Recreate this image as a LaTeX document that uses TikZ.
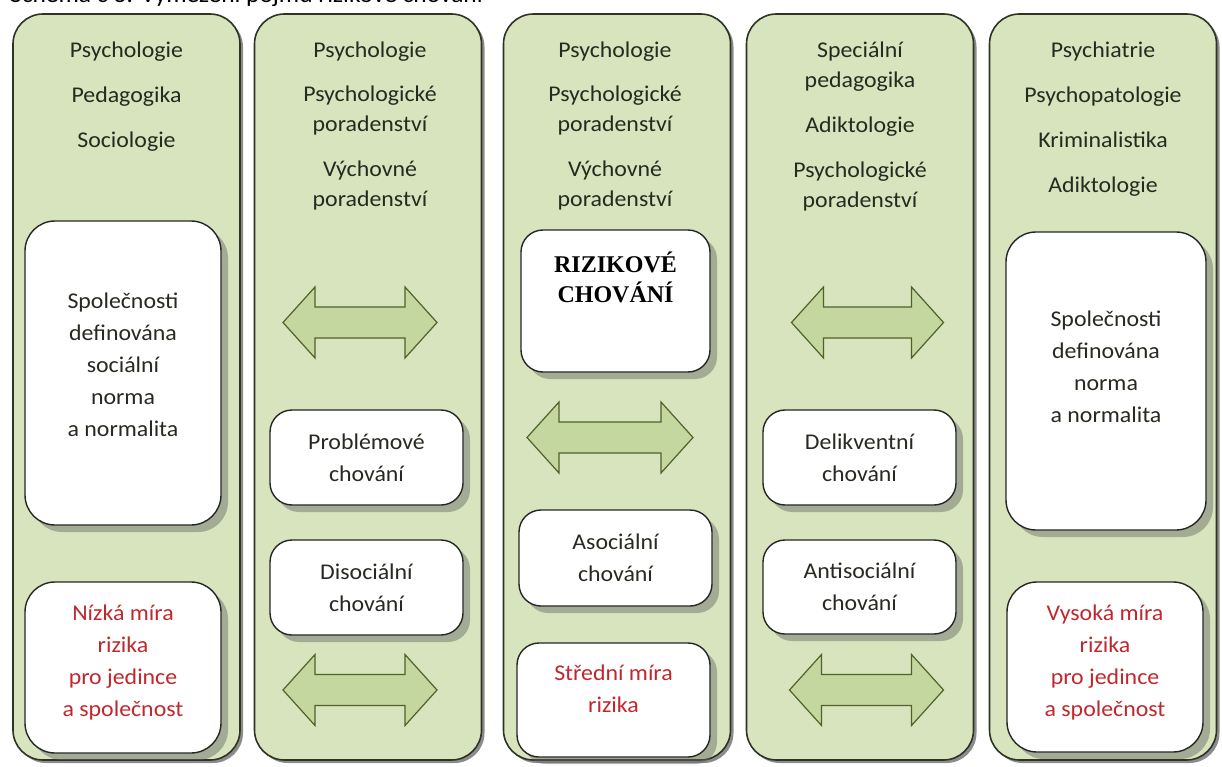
\documentclass[tikz,border=0pt]{standalone}
\usepackage{fontspec}
\setmainfont{Carlito}[FakeStretch=1.06]
\newfontfamily\timesfont{Liberation Serif}
\usetikzlibrary{shadows}
\definecolor{colfill}{HTML}{D7E4BD}
\definecolor{colborder}{HTML}{2E3326}
\definecolor{textdark}{HTML}{262A20}
\definecolor{riskred}{HTML}{C0282D}
\definecolor{arrowfill}{HTML}{C4D79F}
\definecolor{arrowdraw}{HTML}{4F6228}
\tikzset{
  column/.style={draw=colborder, line width=1.6pt, fill=colfill, rounded corners=30pt,
    inner sep=0pt, minimum width=227pt, minimum height=746pt,
    drop shadow={shadow xshift=3pt, shadow yshift=-3pt, fill=black, opacity=0.45}},
  wbox/.style={draw=black!85, line width=1.4pt, fill=white, rounded corners=#1,
    inner sep=0pt, align=center, text=textdark,
    font=\fontsize{22.5}{32}\selectfont,
    drop shadow={shadow xshift=7pt, shadow yshift=-7pt, fill=black!60, opacity=0.45}},
  wbox/.default=22pt,
  hdr/.style={font=\fontsize{22.5}{30}\selectfont, text=textdark, align=center, inner sep=0pt},
  boxtxt/.style={font=\fontsize{22.5}{32}\selectfont, text=textdark, align=center, inner sep=0pt},
  redtxt/.style={font=\fontsize{22.5}{32}\selectfont, text=riskred, align=center, inner sep=0pt},
  dblarrow/.pic={
    \path[draw=arrowdraw, line width=1.2pt, fill=arrowfill, line join=miter]
      (-#1,0) -- (-#1+32,-35.5) -- (-#1+32,-15.5) -- (#1-32,-15.5) -- (#1-32,-35.5)
      -- (#1,0) -- (#1-32,35.5) -- (#1-32,15.5) -- (-#1+32,15.5) -- (-#1+32,35.5) -- cycle;
  }
}
\begin{document}
\begin{tikzpicture}[x=1pt,y=-1pt]
\useasboundingbox (0,0) rectangle (1222,767);
\fill[white] (0,0) rectangle (1222,767);
% title (cut off at the top)
\node[anchor=base west, inner sep=0pt, font=\fontsize{24}{28}\selectfont] (title) at (10,3)
  {Schéma č 3: Vymezení pojmu rizikové chování};
% columns
\node[column] (c1) at (126.5,387) {};
\node[column] (c2) at (368,387) {};
\node[column] (c3) at (617,387) {};
\node[column] (c4) at (860,387) {};
\node[column] (c5) at (1103,387) {};
% headers (anchor base = baseline of last line)
\node[hdr, anchor=base] (h1) at (126.5,148) {Psychologie\\[15pt]Pedagogika\\[15pt]Sociologie};
\node[hdr, anchor=base] (h2) at (370,207) {Psychologie\\[14pt]Psychologické\\poradenství\\[15pt]Výchovné\\poradenství};
\node[hdr, anchor=base] (h3) at (615,207) {Psychologie\\[14pt]Psychologické\\poradenství\\[15pt]Výchovné\\poradenství};
\node[hdr, anchor=base] (h4) at (860,208) {Speciální\\pedagogika\\[15pt]Adiktologie\\[15pt]Psychologické\\poradenství};
\node[hdr, anchor=base] (h5) at (1103,193) {Psychiatrie\\[15pt]Psychopatologie\\[15pt]Kriminalistika\\[15pt]Adiktologie};
% column 1
\node[wbox=30pt, minimum width=196pt, minimum height=304pt] (b1a) at (123,373) {};
\node[boxtxt] (t1a) at (123,365) {Společnosti\\definována\\sociální\\norma\\a normalita};
\node[wbox=30pt, minimum width=196pt, minimum height=171pt] (b1b) at (123,667.5) {};
\node[redtxt] (t1b) at (123,662) {Nízká míra\\rizika\\pro jedince\\a společnost};
% column 2
\pic (a2t) at (360,322.5) {dblarrow=77};
\node[wbox, minimum width=193pt, minimum height=95pt] (b2a) at (366.5,457.5) {Problémové\\chování};
\node[wbox, minimum width=193pt, minimum height=95pt] (b2b) at (366.5,587.5) {Disociální\\chování};
\pic (a2b) at (360,690) {dblarrow=77};
% column 3
\node[wbox, minimum width=189pt, minimum height=142pt] (b3a) at (615.5,301) {};
\node[anchor=base, inner sep=0pt, align=center, font=\timesfont\bfseries\fontsize{24}{30}\selectfont] (t3a) at (615.5,302) {RIZIKOVÉ\\CHOVÁNÍ};
\pic (a3) at (610,437.5) {dblarrow=83};
\node[wbox, minimum width=193pt, minimum height=96pt] (b3b) at (615.5,558) {Asociální\\chování};
\node[wbox, minimum width=193pt, minimum height=114pt] (b3c) at (613.5,700) {};
\node[redtxt, anchor=base] (t3c) at (613.5,712) {Střední míra\\rizika};
% column 4
\pic (a4t) at (867.5,322.5) {dblarrow=76};
\node[wbox, minimum width=193pt, minimum height=95pt] (b4a) at (859.5,457.5) {Delikventní\\chování};
\node[wbox, minimum width=193pt, minimum height=94pt] (b4b) at (859.5,587) {Antisociální\\chování};
\pic (a4b) at (866.5,690) {dblarrow=77};
% column 5
\node[wbox=30pt, minimum width=200pt, minimum height=298pt] (b5a) at (1106,381) {};
\node[boxtxt] (t5a) at (1106,367) {Společnosti\\definována\\norma\\a normalita};
\node[wbox=30pt, minimum width=196pt, minimum height=170pt] (b5b) at (1105,667) {};
\node[redtxt] (t5b) at (1105,662) {Vysoká míra\\rizika\\pro jedince\\a společnost};
\end{tikzpicture}
\end{document}
